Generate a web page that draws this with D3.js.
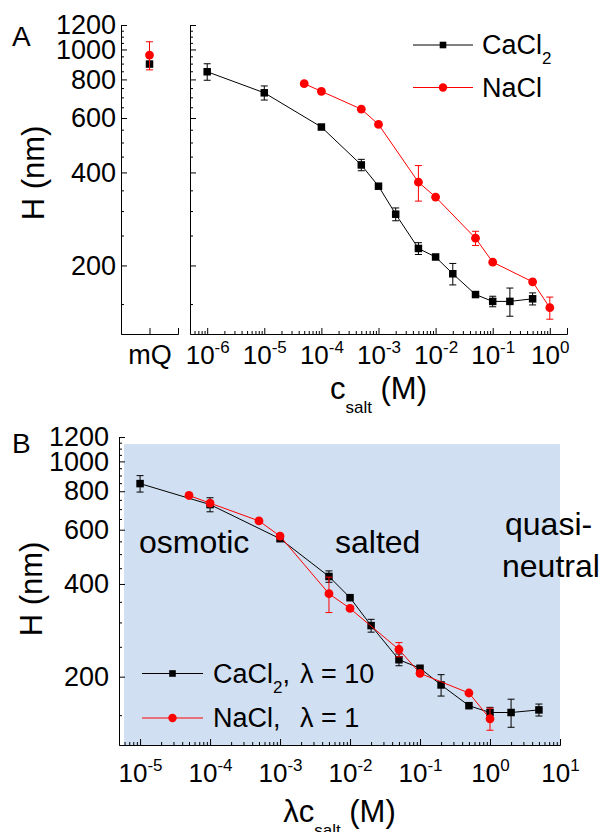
<!DOCTYPE html>
<html>
<head>
<meta charset="utf-8">
<script src="https://cdn.jsdelivr.net/npm/d3@7"></script>
<style>
  body { margin: 0; background: #fff; }
  svg { font-family: "Liberation Sans", Arial, sans-serif; }
</style>
</head>
<body>
<svg id="chart" width="607" height="832"></svg>
<script>
// values
const cacl2Conc = [1e-6, 1e-5, 1e-4, 5e-4, 1e-3, 2e-3, 5e-3, 1e-2, 2e-2, 5e-2, 1e-1, 2e-1, 5e-1];
const cacl2H    = [847, 724, 561, 423, 361, 293, 227, 213, 188, 161, 153, 153, 156];
const cacl2Err  = [52, 38, 0, 18, 0, 14, 10, 0, 15, 0, 6, 16, 7];

const naclConc = [5e-5, 1e-4, 5e-4, 1e-3, 5e-3, 1e-2, 5e-2, 1e-1, 5e-1, 1];
const naclH    = [775, 732, 641, 572, 372, 333, 245, 205, 177, 146];
const naclErr  = [0, 0, 0, 0, 49, 0, 13, 0, 0, 12];

const mqCategories = ["mQ"];
const mqCacl2H = [897], mqCacl2Err = [0];
const mqNaclH = [959], mqNaclErr = [100];

const lambdaCa = 10, lambdaNa = 1;

const hMajor = [200, 400, 600, 800, 1000, 1200];
const hMinor = d3.range(150, 1200, 50).filter(v => v % 200 !== 0);
const xMajorA = [1e-6, 1e-5, 1e-4, 1e-3, 1e-2, 1e-1, 1];
const xMajorB = [1e-5, 1e-4, 1e-3, 1e-2, 1e-1, 1, 10];

const regions = [
  { text: "osmotic", x: 139, y: 553 },
  { text: "salted", x: 335, y: 553 },
  { text: "quasi-", x: 505, y: 535 },
  { text: "neutral", x: 502, y: 577 }
];

const FONT = '"Liberation Sans", Arial, sans-serif';
const RED = "#ff0000";
const svg = d3.select("#chart");

function minorLog(domain) {
  const out = [];
  for (let e = Math.floor(Math.log10(domain[0])); e <= Math.ceil(Math.log10(domain[1])); e++) {
    for (let k = 2; k < 10; k++) {
      const v = k * Math.pow(10, e);
      if (v >= domain[0] && v <= domain[1]) out.push(v);
    }
  }
  return out;
}

function drawYAxis(y, xPos, withLabels, pad) {
  const minor = svg.append("g").attr("transform", `translate(${xPos},0)`)
    .call(d3.axisLeft(y).tickValues(hMinor).tickSize(-3).tickSizeOuter(0).tickFormat(""));
  minor.select(".domain").remove();
  const major = svg.append("g").attr("transform", `translate(${xPos},0)`)
    .call(d3.axisLeft(y).tickValues(hMajor).tickSize(-6).tickSizeOuter(0).tickPadding(pad)
      .tickFormat(withLabels ? d3.format("d") : () => ""));
  major.attr("font-size", 27).attr("font-family", FONT);
  major.selectAll("text").attr("fill", "#000");
}

function drawLogXAxis(x, yPos, majors, labelY) {
  const minor = svg.append("g").attr("transform", `translate(0,${yPos})`)
    .call(d3.axisBottom(x).tickValues(minorLog(x.domain())).tickSize(-3).tickSizeOuter(0).tickFormat(""));
  minor.select(".domain").remove();
  const major = svg.append("g").attr("transform", `translate(0,${yPos})`)
    .call(d3.axisBottom(x).tickValues(majors).tickSize(-6).tickSizeOuter(-6).tickFormat(""));
  major.attr("font-family", FONT);
  major.selectAll(".tick text").each(function (d) {
    const t = d3.select(this);
    t.attr("y", labelY).attr("dy", null).attr("fill", "#000").attr("font-size", 26);
    t.append("tspan").text("10");
    t.append("tspan").attr("font-size", 17).attr("dy", -11).text(String(Math.round(Math.log10(d))));
  });
}

function drawSeries(x, y, xs, hs, errs, color, shape) {
  const g = svg.append("g");
  const pts = xs.map((v, i) => ({ x: x(v), y: y(hs[i]), lo: y(hs[i] - errs[i]), hi: y(hs[i] + errs[i]), e: errs[i] }));
  g.append("path").datum(pts)
    .attr("fill", "none").attr("stroke", color).attr("stroke-width", 1)
    .attr("d", d3.line().x(d => d.x).y(d => d.y));
  const eb = g.selectAll(".err").data(pts.filter(d => d.e > 0)).join("g")
    .attr("stroke", color).attr("stroke-width", 1);
  eb.append("line").attr("x1", d => d.x).attr("x2", d => d.x).attr("y1", d => d.lo).attr("y2", d => d.hi);
  eb.append("line").attr("x1", d => d.x - 3.5).attr("x2", d => d.x + 3.5).attr("y1", d => d.lo).attr("y2", d => d.lo);
  eb.append("line").attr("x1", d => d.x - 3.5).attr("x2", d => d.x + 3.5).attr("y1", d => d.hi).attr("y2", d => d.hi);
  if (shape === "square") {
    g.selectAll("rect").data(pts).join("rect")
      .attr("x", d => d.x - 3.75).attr("y", d => d.y - 3.75)
      .attr("width", 7.5).attr("height", 7.5).attr("fill", color);
  } else {
    g.selectAll("circle").data(pts).join("circle")
      .attr("cx", d => d.x).attr("cy", d => d.y).attr("r", 4.4).attr("fill", color);
  }
}

function legendItem(x1, x2, yy, color, shape) {
  svg.append("line").attr("x1", x1).attr("x2", x2).attr("y1", yy).attr("y2", yy)
    .attr("stroke", color).attr("stroke-width", 1);
  const cx = (x1 + x2) / 2;
  if (shape === "square") {
    svg.append("rect").attr("x", cx - 3.3).attr("y", yy - 3.3).attr("width", 6.6).attr("height", 6.6).attr("fill", color);
  } else {
    svg.append("circle").attr("cx", cx).attr("cy", yy).attr("r", 4.2).attr("fill", color);
  }
}

function subText(x, y, parts, size, anchor) {
  const t = svg.append("text").attr("x", x).attr("y", y).attr("font-size", size)
    .attr("text-anchor", anchor || "start").attr("fill", "#000");
  parts.forEach(p => {
    const s = t.append("tspan").text(p.t);
    if (p.sub) s.attr("font-size", p.size || 17).attr("dy", p.dy);
    else if (p.dy) s.attr("dy", p.dy);
  });
  return t;
}

// ---------- Panel A ----------
const yA = d3.scaleLog().domain([120, 1200]).range([334, 25]);
const xMq = d3.scalePoint().domain(mqCategories).range([121, 178]).padding(0.5);
const xA = d3.scaleLog().domain([5e-7, 2]).range([190, 567]);

drawYAxis(yA, 121, true, 5);
drawYAxis(yA, 190, false, 5);

const mqAxis = svg.append("g").attr("transform", "translate(0,334)")
  .call(d3.axisBottom(xMq).tickSize(-6).tickSizeOuter(-6));
mqAxis.attr("font-family", FONT);
mqAxis.selectAll("text").attr("y", 30).attr("dy", null).attr("font-size", 27).attr("fill", "#000");

drawLogXAxis(xA, 334, xMajorA, 30);

drawSeries(xMq, yA, mqCategories, mqCacl2H, mqCacl2Err, "#000", "square");
drawSeries(xMq, yA, mqCategories, mqNaclH, mqNaclErr, RED, "circle");
drawSeries(xA, yA, cacl2Conc, cacl2H, cacl2Err, "#000", "square");
drawSeries(xA, yA, naclConc, naclH, naclErr, RED, "circle");

legendItem(413, 473, 45, "#000", "square");
legendItem(413, 473, 87.5, RED, "circle");
subText(482, 54, [{ t: "CaCl" }, { t: "2", sub: true, dy: 10 }], 27);
subText(482, 97, [{ t: "NaCl" }], 27);

svg.append("text").attr("x", 12).attr("y", 46).attr("font-size", 28).text("A");
svg.append("text").attr("transform", "translate(44,173) rotate(-90)")
  .attr("text-anchor", "middle").attr("font-size", 31).text("H (nm)");
subText(378.5, 399, [{ t: "c" }, { t: "salt", sub: true, dy: 14 }, { t: " (M)", dy: -14 }], 31, "middle");

// ---------- Panel B ----------
const yB = d3.scaleLog().domain([120, 1200]).range([745, 437]);
const xB = d3.scaleLog().domain([5e-6, 10]).range([119, 560]);

svg.append("rect")
  .attr("x", xB(5.9e-6)).attr("y", yB(1138))
  .attr("width", xB(10) - xB(5.9e-6)).attr("height", yB(120) - yB(1138))
  .attr("fill", "#d0dff1");

drawYAxis(yB, 119, true, 10);
drawLogXAxis(xB, 745, xMajorB, 37);

drawSeries(xB, yB, cacl2Conc.map(c => c * lambdaCa), cacl2H, cacl2Err, "#000", "square");
drawSeries(xB, yB, naclConc.map(c => c * lambdaNa), naclH, naclErr, RED, "circle");

legendItem(142, 203, 673.5, "#000", "square");
legendItem(142, 203, 718, RED, "circle");
subText(213, 683, [{ t: "CaCl" }, { t: "2", sub: true, dy: 10 }, { t: ",", dy: -10 }], 27);
subText(300, 683, [{ t: "\u03bb = 10" }], 27);
subText(213, 727, [{ t: "NaCl," }], 27);
subText(300, 727, [{ t: "\u03bb = 1" }], 27);

regions.forEach(r => {
  svg.append("text").attr("x", r.x).attr("y", r.y).attr("font-size", 32).text(r.text);
});

svg.append("text").attr("x", 12).attr("y", 453).attr("font-size", 28).text("B");
svg.append("text").attr("transform", "translate(42,589) rotate(-90)")
  .attr("text-anchor", "middle").attr("font-size", 31).text("H (nm)");
subText(339.5, 822, [{ t: "\u03bbc" }, { t: "salt", sub: true, dy: 14 }, { t: " (M)", dy: -14 }], 31, "middle");
</script>
</body>
</html>
